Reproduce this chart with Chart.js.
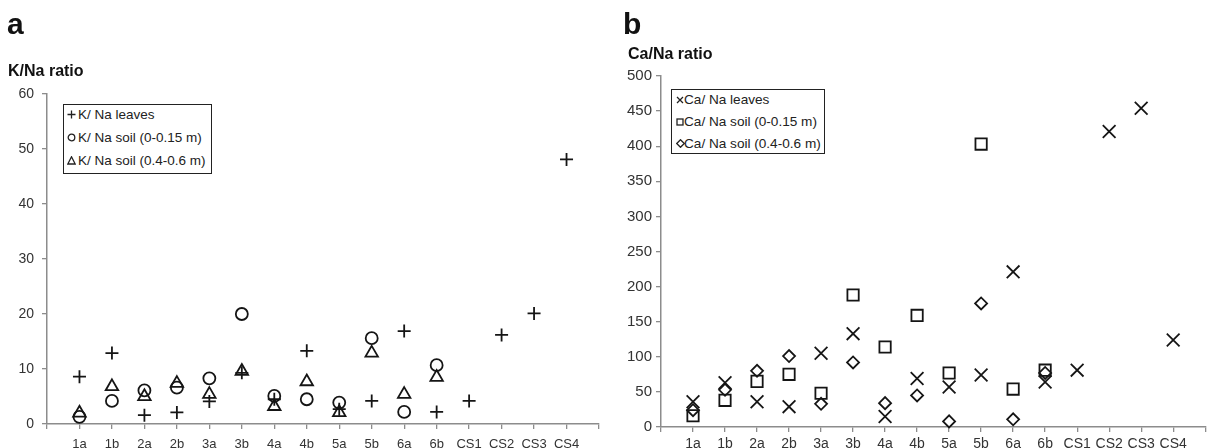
<!DOCTYPE html>
<html>
<head>
<meta charset="utf-8">
<script src="https://cdn.jsdelivr.net/npm/chart.js@4.4.1/dist/chart.umd.min.js"></script>
<style>
  body { margin: 0; background: #fff; font-family: "Liberation Sans", Arial, sans-serif; }
  #wrap { position: relative; width: 1216px; height: 448px; overflow: hidden; }
  canvas { position: absolute; top: 0; }
  .lbl { position: absolute; font-weight: bold; color: #111; white-space: nowrap; line-height: 1; }
  .panel { font-size: 30px; }
  .ytitle { font-size: 16px; }
  .legend { position: absolute; border: 1.5px solid #222; background: #fff; color: #222; box-sizing: border-box; }
  .legend .row { position: absolute; white-space: nowrap; line-height: 16px; }
  .legend svg { position: absolute; fill: none; stroke: #222; stroke-width: 1.3; }
</style>
</head>
<body>
<div id="wrap">
  <canvas id="chartA" width="608" height="448" style="left:0"></canvas>
  <canvas id="chartB" width="608" height="448" style="left:608px"></canvas>

  <div class="lbl panel" style="left:7px; top:9px;">a</div>
  <div class="lbl ytitle" style="left:8px; top:63px;">K/Na ratio</div>
  <div class="lbl panel" style="left:623px; top:9px;">b</div>
  <div class="lbl ytitle" style="left:628px; top:46px;">Ca/Na ratio</div>

  <!-- legend, panel a -->
  <div class="legend" style="left:63px; top:104px; width:149px; height:70px; font-size:13.5px;">
    <svg width="9" height="9" style="left:3px; top:5px;"><path d="M4.5 0.5V8.5M0.5 4.5H8.5"/></svg>
    <div class="row" style="left:14px; top:1.5px;">K/ Na leaves</div>
    <svg width="9" height="9" style="left:3px; top:28px;"><circle cx="4.5" cy="4.5" r="3.3"/></svg>
    <div class="row" style="left:14px; top:24.5px;">K/ Na soil (0-0.15 m)</div>
    <svg width="9" height="9" style="left:3px; top:51px;"><path d="M4.5 0.8L8.2 8L0.8 8Z"/></svg>
    <div class="row" style="left:14px; top:47.5px;">K/ Na soil (0.4-0.6 m)</div>
  </div>

  <!-- legend, panel b -->
  <div class="legend" style="left:671px; top:89px; width:154px; height:65px; font-size:13.6px;">
    <svg width="8" height="8" style="left:4px; top:5.5px;"><path d="M1 1L7 7M7 1L1 7"/></svg>
    <div class="row" style="left:12px; top:1.5px;">Ca/ Na leaves</div>
    <svg width="8" height="8" style="left:4px; top:27.5px;"><rect x="1" y="1" width="6" height="6"/></svg>
    <div class="row" style="left:12px; top:23.5px;">Ca/ Na soil (0-0.15 m)</div>
    <svg width="9" height="9" style="left:3.5px; top:49px;"><path d="M4.5 0.7L8.3 4.5L4.5 8.3L0.7 4.5Z"/></svg>
    <div class="row" style="left:12px; top:45.5px;">Ca/ Na soil (0.4-0.6 m)</div>
  </div>
</div>

<script>
// sites along the x axis
const sites = ['1a', '1b', '2a', '2b', '3a', '3b', '4a', '4b', '5a', '5b', '6a', '6b', 'CS1', 'CS2', 'CS3', 'CS4'];

// panel a: K/Na ratio
const kLeaves   = [8.6, 12.9, 1.6, 2.1, 4.1, 9.3, 4.5, 13.3, 2.7, 4.2, 16.9, 2.2, 4.2, 16.2, 20.1, 48.1];
const kSoilTop  = [1.3, 4.2, 6.1, 6.6, 8.3, 20.0, 5.1, 4.5, 3.9, 15.6, 2.2, 10.7, null, null, null, null];
const kSoilDeep = [2.0, 6.8, 5.0, 7.4, 5.4, 9.6, 3.2, 7.7, 2.1, 12.9, 5.4, 8.5, null, null, null, null];
const kTicks = { min: 0, max: 60, step: 10 };

// panel b: Ca/Na ratio
const caLeaves   = [36, 63, 36, 29, 105, 133, 15, 69, 57, 74, 221, 64, 81, 421, 454, 124];
const caSoilTop  = [16, 38, 65, 75, 48, 188, 114, 159, 77, 403, 54, 81, null, null, null, null];
const caSoilDeep = [24, 53, 80, 101, 33, 92, 34, 45, 8, 176, 11, 77, null, null, null, null];
const caTicks = { min: 0, max: 500, step: 50 };

Chart.defaults.font.family = "'Liberation Sans', Arial, sans-serif";
Chart.defaults.color = '#333';

const AXIS = '#8c8c8c';
const INK = '#151515';

function toPoints(values) {
  return values.map((v, i) => ({ x: i + 1, y: v }));
}

function series(values, style, radius) {
  return {
    data: toPoints(values),
    pointStyle: style,
    pointRadius: radius,
    pointHoverRadius: radius,
    pointBorderColor: INK,
    pointBackgroundColor: 'rgba(0,0,0,0)',
    pointBorderWidth: 1.8,
    showLine: false,
    clip: false
  };
}

function makeChart(id, datasets, yt, opts) {
  return new Chart(document.getElementById(id), {
    type: 'scatter',
    data: { datasets: datasets },
    options: {
      responsive: false,
      animation: false,
      events: [],
      layout: { padding: { top: opts.top, right: 2, bottom: 0, left: 0 } },
      plugins: { legend: { display: false }, tooltip: { enabled: false } },
      scales: {
        x: {
          type: 'linear',
          min: 0,
          max: sites.length + 1,
          afterFit: s => { s.height = opts.xHeight; },
          grid: { drawOnChartArea: false, drawTicks: true, tickLength: 5, color: AXIS, lineWidth: 1.3 },
          border: { display: true, color: AXIS, width: 1.5 },
          ticks: {
            stepSize: 1,
            autoSkip: false,
            minRotation: 0,
            maxRotation: 0,
            padding: opts.xPad,
            font: { size: opts.xFont },
            callback: v => sites[v - 1] || ''
          }
        },
        y: {
          min: yt.min,
          max: yt.max,
          afterFit: s => { s.width = opts.yWidth; },
          grid: { drawOnChartArea: false, drawTicks: true, tickLength: 5, color: AXIS, lineWidth: 1.3 },
          border: { display: true, color: AXIS, width: 1.5 },
          ticks: { stepSize: yt.step, padding: opts.yPad, font: { size: opts.yFont } }
        }
      }
    }
  });
}

makeChart('chartA', [
  series(kLeaves, 'cross', 6.5),
  series(kSoilTop, 'circle', 6),
  series(kSoilDeep, 'triangle', 7.2)
], kTicks, { top: 94, xHeight: 24, yWidth: 47, xPad: 8, yPad: 8, xFont: 13, yFont: 14 });

makeChart('chartB', [
  series(caLeaves, 'crossRot', 9),
  series(caSoilTop, 'rect', 8),
  series(caSoilDeep, 'rectRot', 6)
], caTicks, { top: 76, xHeight: 21, yWidth: 53, xPad: 4, yPad: 4, xFont: 14, yFont: 15 });
</script>
</body>
</html>
